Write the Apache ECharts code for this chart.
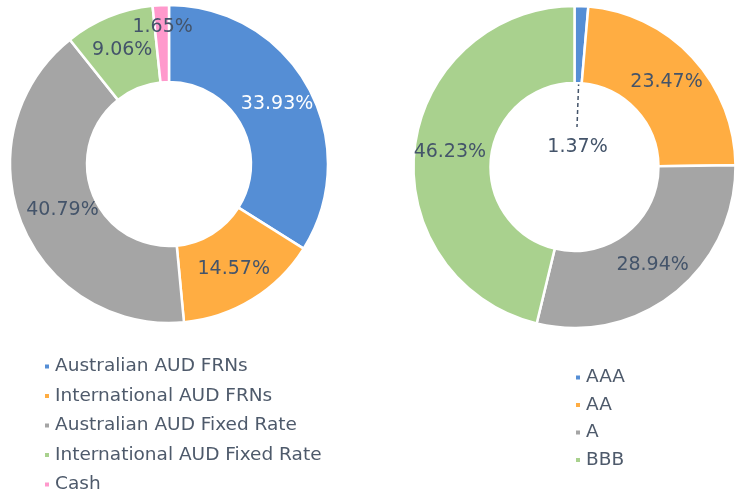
<!DOCTYPE html>
<html><head><meta charset="utf-8">
<script src="https://cdn.jsdelivr.net/npm/echarts@6/dist/echarts.min.js"></script>
<style>html,body{margin:0;padding:0;background:#fff}#c{width:743px;height:494px}</style>
</head><body><div id="c"></div>
<script>
// ---- data ----
const sectorNames = ['Australian AUD FRNs', 'International AUD FRNs', 'Australian AUD Fixed Rate', 'International AUD Fixed Rate', 'Cash'];
const sectorValues = [33.93, 14.57, 40.79, 9.06, 1.65];
const ratingNames = ['AAA', 'AA', 'A', 'BBB'];
const ratingValues = [1.37, 23.47, 28.94, 46.23];

// ---- styles / layout ----
const palette = ['#558ED5', '#FFAD42', '#A5A5A5', '#A9D18E', '#FF99CC'];
const labelColor = '#44546A';
const legendColor = '#4E5A6B';
const fontFamily = '"DejaVu Sans", sans-serif';
const leftCenter = [169, 164], leftRadius = [82, 159];
const rightCenter = [574.5, 167], rightRadius = [84, 161];

const pct = p => p.value.toFixed(2) + '%';

const leftData = sectorNames.map((n, i) => {
  const d = { name: n, value: sectorValues[i], itemStyle: { color: palette[i] } };
  if (i === 0) d.label = { color: '#FFFFFF' };
  return d;
});
const rightData = ratingNames.map((n, i) => {
  const d = { name: n, value: ratingValues[i], itemStyle: { color: palette[i] } };
  if (i === 0) {
    d.label = { position: 'outside' };
    d.labelLine = { show: true, length: 5, length2: 5, lineStyle: { type: [4, 3], color: labelColor, width: 1.5 } };
  }
  return d;
});

const legendText = { color: legendColor, fontSize: 18.5, fontFamily };

const chart = echarts.init(document.getElementById('c'), null, { renderer: 'canvas' });
chart.setOption({
  animation: false,
  backgroundColor: '#ffffff',
  textStyle: { fontFamily },
  legend: [
    {
      data: sectorNames, orient: 'vertical', left: 43, top: 357, height: 137, padding: 0,
      itemWidth: 6, itemHeight: 6, icon: 'rect', itemGap: 10.5,
      selectedMode: false, textStyle: legendText
    },
    {
      data: ratingNames, orient: 'vertical', left: 574, top: 368, height: 120, padding: 0,
      itemWidth: 6, itemHeight: 6, icon: 'rect', itemGap: 8.5,
      selectedMode: false, textStyle: legendText
    }
  ],
  series: [
    {
      type: 'pie', center: leftCenter, radius: leftRadius, startAngle: 90, clockwise: true,
      avoidLabelOverlap: false,
      itemStyle: { borderColor: '#fff', borderWidth: 2.5 },
      label: { show: true, position: 'inside', formatter: pct, color: labelColor, fontSize: 19, fontFamily },
      labelLine: { show: false },
      labelLayout: p => (p.dataIndex === 4 ? { dy: -14 } : (p.dataIndex === 2 ? { dx: 8 } : {})),
      emphasis: { disabled: true },
      data: leftData
    },
    {
      type: 'pie', center: rightCenter, radius: rightRadius, startAngle: 90, clockwise: true,
      avoidLabelOverlap: false,
      itemStyle: { borderColor: '#fff', borderWidth: 2.5 },
      label: { show: true, position: 'inside', formatter: pct, color: labelColor, fontSize: 19, fontFamily },
      labelLine: { show: false },
      labelLayout: p => {
        if (p.dataIndex !== 0) return {};
        const cx = rightCenter[0], cy = rightCenter[1];
        return {
          x: cx + 3, y: cy - 20, align: 'center', verticalAlign: 'middle',
          labelLinePoints: [[cx + 5.5, cy - 120], [cx + 4, cy - 80], [cx + 2.5, cy - 40]]
        };
      },
      emphasis: { disabled: true },
      data: rightData
    }
  ]
});
</script>
</body></html>
